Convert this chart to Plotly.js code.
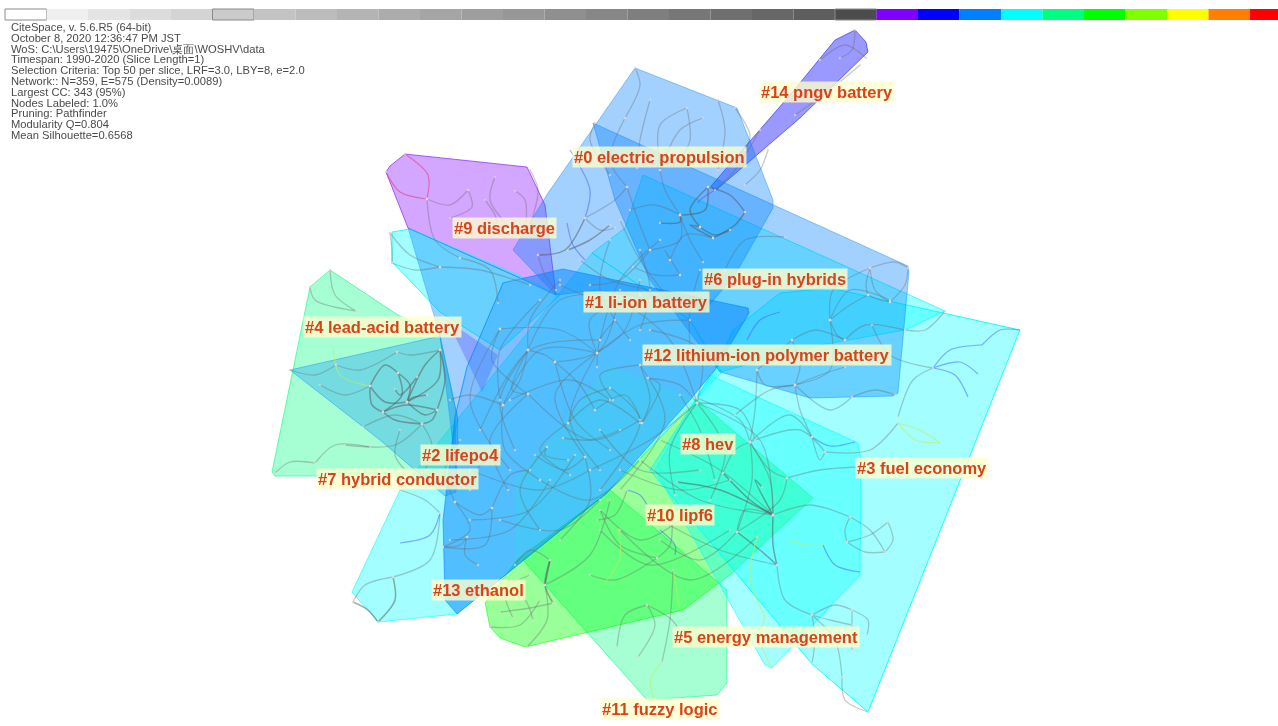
<!DOCTYPE html>
<html><head><meta charset="utf-8">
<script src="https://cdn.plot.ly/plotly-3.0.1.min.js"></script>
<style>html,body{margin:0;padding:0;background:#fff;overflow:hidden}#g{width:1278px;height:726px;filter:blur(0.65px)}</style>
</head><body><div id="g"></div>
<script>
// Colour time bar: 1990-2020
const years=[1990,1991,1992,1993,1994,1995,1996,1997,1998,1999,2000,2001,2002,2003,2004,2005,2006,2007,2008,2009,2010,2011,2012,2013,2014,2015,2016,2017,2018,2019,2020];
const yearColors=['#ffffff','#efefef','#e4e4e4','#dcdcdc','#d4d4d4','#cbcbcb','#c3c3c3','#bcbcbc','#b4b4b4','#acacac','#a5a5a5','#9e9e9e','#979797','#8f8f8f','#878787','#7f7f7f','#777777','#6f6f6f','#676767','#5e5e5e','#4c4c4c','#8000ff','#0000ff','#0080ff','#00ffff','#00ff80','#00ff00','#80ff00','#ffff00','#ff8000','#ff0000'];
const yearOutlined=[1990,1995,2010];

const infoLines=['CiteSpace, v. 5.6.R5 (64-bit)','October 8, 2020 12:36:47 PM JST','WoS: C:\\Users\\19475\\OneDrive\\桌面\\WOSHV\\data','Timespan: 1990-2020 (Slice Length=1)','Selection Criteria: Top 50 per slice, LRF=3.0, LBY=8, e=2.0','Network:: N=359, E=575 (Density=0.0089)','Largest CC: 343 (95%)','Nodes Labeled: 1.0%','Pruning: Pathfinder','Modularity Q=0.804','Mean Silhouette=0.6568'];

// Cluster hulls [x,y,...]
const hullMagenta=[405,154,527,167,545,205,556,295,520,278,408,228,386,172,390,166];
const hullViolet=[447,320,498,355,482,392,462,350];
const hullP14=[855,30,866,42,868,52,800,118,715,191,711,186,790,95,835,40];
const hullP0=[635,68,737,108,773,200,773,208,735,275,705,310,600,290,556,295,513,250,548,193];
const hullP6=[593,123,908,266,909,272,898,393,893,396,810,398,720,372,650,280,615,200];
const hullLight=[408,228,520,278,503,283,467,367,455,417,456,470,440,336];
const hullCyanA=[392,232,410,229,520,276,560,295,500,350,440,312,392,262];
const hullCyanB=[643,175,945,311,905,330,820,345,720,372,690,320,592,253,625,228];
const hullCyanWedge=[592,253,690,320,722,372,607,493,457,614,378,622,352,592,400,490];
const hullP4=[330,270,310,287,272,472,275,476,445,476,458,420,440,336,398,315];
const hullTeal=[290,370,440,336,458,420,456,492,445,496,380,440];
const hullBlue=[503,283,563,269,748,308,749,313,717,367,690,400,607,493,457,614,445,600,443,520,455,417,467,367];
const hullTint=[610,365,697,400,607,493,515,560,515,480];
const hullP3=[1020,330,868,712,812,664,650,470,715,370,733,330,780,293,830,288];
const hullP5=[710,375,858,443,861,460,860,575,772,668,765,665,655,470];
const hullP11=[523,560,610,490,727,590,727,683,717,695,647,700];
const hullP10=[697,400,813,498,730,575,683,610,525,647,500,638,490,627,485,603,517,560,607,493];

// Curved links: start x,y  through x,y  end x,y
const grayArcs=[
[397,352,360,370,336,365],[336,365,315,375,290,370],[320,385,345,395,370,386],[440,350,410,355,397,352],
[363,427,395,415,422,424],[315,463,335,445,370,447],[275,473,290,462,315,463],[422,424,432,445,425,470],[405,470,395,455,400,430],
[310,287,315,300,356,311],[330,270,335,295,356,311],[422,424,395,445,345,445],
[597,353,640,325,690,320],[597,353,560,330,500,329],[597,353,590,320,625,300],[597,353,625,330,640,280],[597,367,600,340,615,320],
[528,350,500,400,515,450],[528,350,512,390,528,394],[528,350,545,355,555,362],[555,362,580,385,595,410],[555,362,575,420,610,450],
[500,329,492,360,528,394],[503,405,520,380,528,350],[503,405,505,450,540,480],[503,405,470,395,450,400],[528,394,490,440,508,490],
[613,400,600,375,640,365],[595,410,625,395,642,423],[642,423,660,385,648,378],[640,365,650,400,642,423],[648,378,680,385,697,403],
[597,353,555,395,585,457],[610,388,580,400,568,423],[568,460,545,455,547,447],[563,438,590,440,620,430],[585,457,565,470,535,455],
[568,423,540,450,570,475],[697,403,650,440,590,470],[680,395,700,430,715,480],[697,403,725,450,710,500],[697,403,740,410,755,440],[697,403,670,450,675,495],
[353,602,365,585,393,577],[393,577,430,560,440,513],[440,513,425,500,400,490],[443,547,470,530,455,502],[443,547,460,545,467,537],[467,537,465,555,478,565],
[455,502,480,515,492,508],[492,508,485,545,443,547],[500,612,530,608,553,603],[513,618,505,590,530,575],[533,620,525,600,505,590],[550,560,530,550,515,565],
[527,647,547,620,545,585],[545,585,590,555,610,500],[490,627,520,625,540,600],[492,508,510,475,530,470],[470,490,480,465,500,450],[455,502,445,470,460,440],
[647,605,625,615,617,647],[647,605,655,625,638,657],[647,605,672,620,685,640],[673,570,670,620,662,662],[657,558,670,545,672,515],[657,558,620,545,600,510],[657,558,615,580,590,575],[597,520,615,515,627,490],
[777,565,785,600,812,615],[773,515,810,505,850,517],[850,517,870,530,885,552],[850,517,845,530,847,542],[847,542,870,535,888,522],[888,522,893,540,885,552],[847,542,865,552,885,552],
[812,615,835,605,852,610],[812,615,830,620,852,625],[852,610,868,620,867,635],[812,615,815,640,812,663],[812,615,835,640,842,677],[842,677,845,700,868,712],[852,610,852,625,852,650],
[773,515,745,510,737,532],[737,532,780,500,787,478],[737,532,700,560,660,540],[750,442,800,430,825,452],[825,452,870,450,898,423],[898,417,913,380,933,368],[812,437,820,460,825,452],[787,478,820,470,858,467],
[750,442,790,415,812,437],[697,398,740,420,750,442],[750,442,770,470,787,478],[723,473,735,450,750,442],[750,442,752,480,737,532],[773,515,770,480,750,442],
[830,320,833,290,870,268],[830,320,850,290,890,300],[870,268,895,262,908,268],[870,268,866,285,868,295],[868,295,880,300,890,302],[890,302,905,285,908,268],[870,268,875,290,890,302],[830,320,850,305,868,295],
[830,320,837,335,845,340],[845,340,865,325,905,330],[905,330,925,330,945,311],[872,325,890,355,933,368],[792,340,815,330,845,340],[792,340,775,355,757,370],[757,370,765,385,795,385],[795,385,800,365,792,340],
[795,385,820,375,845,367],[795,385,830,370,830,320],[795,385,830,410,852,397],[852,397,875,390,895,395],[757,370,755,410,750,442],[795,385,770,390,735,415],[795,385,800,410,812,437],
[625,118,640,85,635,68],[650,100,640,140,637,168],[625,118,610,160,627,187],[687,108,660,125,660,165],[703,118,680,130,660,170],[687,108,690,140,680,160],[718,100,725,130,718,170],[735,108,750,135,745,150],
[595,123,590,140,610,175],[627,187,615,200,585,218],[680,215,665,190,660,170],[680,215,655,205,630,210],[650,250,680,240,680,215],[650,250,640,225,627,187],[670,260,685,235,713,238],[703,262,690,240,680,215],[680,275,665,250,670,260],[633,267,655,275,680,275],[725,270,745,240,785,237],
[585,218,600,230,615,228],[538,255,545,275,556,290],[427,199,450,205,468,190],[468,190,472,207,450,218],[427,199,435,240,460,258],[495,177,490,200,510,228],[515,191,525,200,525,235],[530,170,538,190,530,225],[485,200,495,215,497,225],
[460,258,490,270,498,303],[390,233,410,255,440,267],[392,263,415,270,440,267],[440,267,480,270,530,285],[390,233,392,250,392,263],
[840,58,852,50,855,30],[820,60,845,45,866,58],[795,115,830,90,860,65],[715,190,735,170,760,130],[745,185,760,170,768,150],[590,285,620,280,650,250],
[500,329,470,400,510,470],[528,350,560,300,640,295],[503,405,540,350,597,353],[480,430,530,350,600,340],[555,362,600,350,620,290],[597,353,570,420,600,470],[610,388,640,420,600,490],[640,365,665,420,620,490],[650,330,700,350,697,403],[620,300,670,340,697,403],
[540,480,590,500,640,460],[470,470,540,490,590,470],[510,400,570,380,610,400],[528,394,590,440,640,420],[568,423,600,400,640,423],[450,540,510,530,550,480],[470,520,530,510,575,455],[500,520,560,530,600,500],[547,447,520,490,540,530],[585,457,590,500,560,540],
[600,510,640,540,680,520],[620,470,680,490,730,480],[640,460,700,500,773,515],[660,440,720,470,773,515],[600,430,640,470,700,470],[697,403,760,440,773,515],[660,520,720,550,777,565],[620,530,690,580,757,537],[600,530,650,565,730,530],
[540,300,500,350,500,400],[560,280,530,320,528,350],[650,300,600,300,560,285],[700,270,690,310,690,350],[660,240,620,280,600,340],[640,250,650,290,640,330],[610,240,600,290,630,340],[620,220,640,260,670,300],[580,260,610,280,650,290]
];
const darkArcs=[
[370,386,385,365,398,373],[398,373,402,395,383,412],[383,412,405,405,437,410],[437,410,445,380,440,350],[440,350,425,365,407,402],[370,386,385,402,407,402],[398,373,410,385,407,402],
[417,377,400,395,395,389],[427,395,412,398,407,402],[407,402,425,415,437,410],[440,350,438,380,407,402],[383,412,372,405,370,386],[422,424,395,420,383,412],[437,410,432,420,422,424],
[353,602,368,610,378,622],[378,622,395,600,393,577],[553,603,545,585,550,560],[550,560,547,575,545,585],[773,515,773,545,777,565],[723,473,750,500,773,515],[677,482,720,490,773,515],[737,532,760,550,777,565],[773,515,755,480,762,487],
[680,215,705,210,708,187],[708,187,730,195,745,212],[745,212,735,225,713,238],[660,223,680,222,680,215],[700,227,715,235,730,230],[700,227,690,210,708,187],[713,238,690,225,700,227],[568,250,590,240,610,225],[538,255,565,250,585,218]
];
const pinkArcs=[[386,172,400,192,427,199],[405,154,428,175,427,199]];
const blueArcs=[[440,513,430,535,400,543],[627,490,640,495,647,505],[660,530,675,545,675,555],[812,437,830,446,855,442],[823,545,835,565,860,572],[933,368,950,350,982,345],[982,345,1000,330,1020,330],[933,368,960,362,978,374],[933,368,955,375,968,397],[747,340,760,320,780,312],[567,223,573,245,585,260],[570,150,590,190,585,218],[715,190,700,200,698,203]];
const limeArcs=[[662,662,650,680,655,700],[898,423,920,430,940,443],[898,423,915,440,940,443],[757,537,750,577,765,617],[765,617,760,640,772,668],[790,540,805,545,823,545],[333,347,340,375,370,386],[605,583,620,557,618,528],[680,610,675,580,673,570]];

// Cluster labels
const labelText=['#14 pngv battery','#0 electric propulsion','#9 discharge','#6 plug-in hybrids','#1 li-ion battery','#4 lead-acid battery','#12 lithium-ion polymer battery','#8 hev','#2 lifepo4','#7 hybrid conductor','#3 fuel economy','#10 lipf6','#13 ethanol','#5 energy management','#11 fuzzy logic'];
const labelX=[827,659,504,775,646,382,767,708,460,397,922,680,478,766,660];
const labelY=[92,157,228,279,302,327,355,444,455,479,468,515,590,637,709];

function hull(v,fill,line){const x=[],y=[];for(let i=0;i<v.length;i+=2){x.push(v[i]);y.push(v[i+1]);}x.push(v[0]);y.push(v[1]);
 return {type:'scatter',mode:'lines',x,y,fill:'toself',fillcolor:fill,line:{color:line,width:1},hoverinfo:'skip',showlegend:false};}
function arcs(list,color,width){const x=[],y=[];list.forEach(a=>{x.push(a[0],a[2],a[4],null);y.push(a[1],a[3],a[5],null);});
 return {type:'scatter',mode:'lines',x,y,line:{color,width,shape:'spline',smoothing:0.9},connectgaps:false,hoverinfo:'skip',showlegend:false};}

const cellW=41.5, barLeft=5;
const barX=years.map((y,i)=>barLeft+cellW*(i+0.5));
const nodeX=[],nodeY=[];
grayArcs.concat(darkArcs,pinkArcs).forEach(a=>{nodeX.push(a[0],a[4]);nodeY.push(a[1],a[5]);});

const traces=[
 hull(hullMagenta,'rgba(128,0,255,0.35)','rgba(128,0,255,0.6)'),
 hull(hullP14,'rgba(0,0,255,0.4)','rgba(0,0,255,0.5)'),
 hull(hullCyanA,'rgba(0,255,255,0.36)','rgba(0,255,255,0.8)'),
 hull(hullCyanB,'rgba(0,255,255,0.36)','rgba(0,255,255,0.7)'),
 hull(hullCyanWedge,'rgba(0,255,255,0.36)','rgba(0,255,255,0.6)'),
 hull(hullP4,'rgba(0,255,128,0.35)','rgba(0,255,128,0.6)'),
 hull(hullP11,'rgba(0,255,128,0.35)','rgba(0,255,128,0.6)'),
 hull(hullP10,'rgba(0,255,0,0.4)','rgba(0,255,0,0.55)'),
 hull(hullP3,'rgba(0,255,255,0.36)','rgba(0,255,255,0.9)'),
 hull(hullP5,'rgba(0,255,255,0.36)','rgba(0,255,255,0.6)'),
 hull(hullP0,'rgba(0,128,255,0.36)','rgba(0,128,255,0.4)'),
 hull(hullP6,'rgba(0,128,255,0.36)','rgba(0,128,255,0.4)'),
 hull(hullLight,'rgba(0,128,255,0.36)','rgba(0,128,255,0.3)'),
 hull(hullViolet,'rgba(80,60,255,0.3)','rgba(80,60,255,0)'),
 hull(hullTeal,'rgba(0,140,255,0.3)','rgba(0,128,255,0.4)'),
 hull(hullBlue,'rgba(0,128,255,0.5)','rgba(0,128,255,0.55)'),
 hull(hullTint,'rgba(0,255,190,0.13)','rgba(0,255,190,0)'),
 arcs(grayArcs,'rgba(105,105,105,0.36)',1.3),
 arcs(darkArcs,'rgba(85,85,85,0.5)',1.5),
 arcs(pinkArcs,'rgba(220,60,120,0.55)',1.2),
 arcs(blueArcs,'rgba(70,90,255,0.5)',1.2),
 arcs(limeArcs,'rgba(190,240,90,0.65)',1.1),
 {type:'scatter',mode:'markers',x:nodeX,y:nodeY,marker:{size:2.5,color:'rgba(225,215,215,0.7)'},hoverinfo:'skip',showlegend:false},
 {type:'bar',x:barX,y:years.map(()=>11),base:years.map(()=>9),width:years.map(()=>cellW),
  marker:{color:yearColors,line:{color:years.map(y=>yearOutlined.includes(y)?'#8a8a8a':'rgba(0,0,0,0)'),width:years.map(y=>yearOutlined.includes(y)?1:0)}},hoverinfo:'skip',showlegend:false}
];

const annotations=[];
infoLines.forEach((t,i)=>annotations.push({x:9,y:27+i*10.8,xref:'x',yref:'y',xanchor:'left',yanchor:'middle',text:t,showarrow:false,align:'left',font:{family:'Liberation Sans',size:11.2,color:'#4a4a4a'}}));
labelText.forEach((t,i)=>annotations.push({x:labelX[i],y:labelY[i],xref:'x',yref:'y',xanchor:'center',yanchor:'middle',text:'<b>'+t+'</b>',showarrow:false,bgcolor:'rgba(255,255,205,0.78)',borderpad:1,font:{family:'Liberation Sans',size:16.5,color:'#d9431a'}}));

const layout={width:1278,height:726,margin:{l:0,r:0,t:0,b:0},paper_bgcolor:'#fff',plot_bgcolor:'#fff',showlegend:false,barmode:'overlay',
 xaxis:{range:[0,1278],visible:false,fixedrange:true},yaxis:{range:[726,0],visible:false,fixedrange:true},annotations};
Plotly.newPlot('g',traces,layout,{displayModeBar:false,staticPlot:true});
</script></body></html>
